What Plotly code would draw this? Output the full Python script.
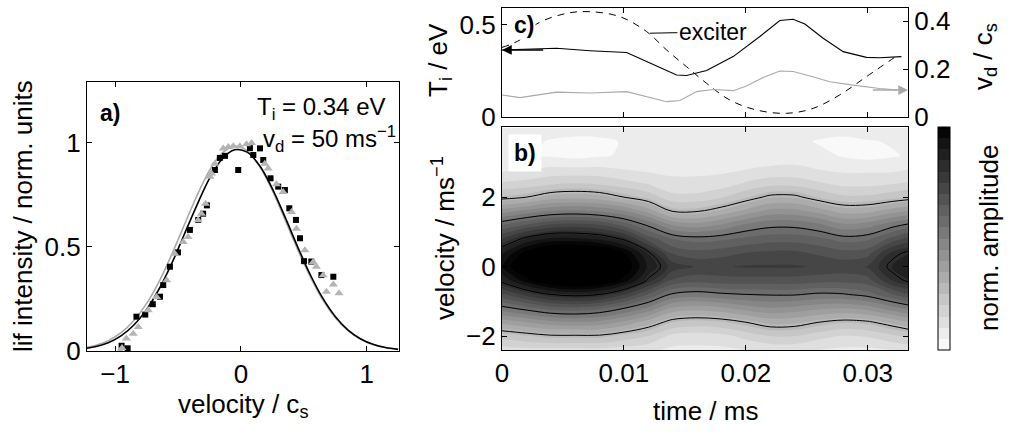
import numpy as np
import plotly.graph_objects as go

# ---------------- panel a) data ----------------
sq_v = [-0.948, -0.90, -0.83, -0.76, -0.70, -0.643, -0.617, -0.564, -0.50, -0.405, -0.339, -0.30, -0.27,
        -0.206, -0.167, -0.126, -0.021, 0.072, 0.099, 0.152, 0.178, 0.236, 0.297, 0.35, 0.385, 0.438,
        0.47, 0.502, 0.56, 0.64, 0.735]
sq_I = [0.025, 0.013, 0.165, 0.175, 0.225, 0.261, 0.317, 0.405, 0.474, 0.582, 0.63, 0.66, 0.70,
        0.87, 0.928, 0.938, 0.87, 0.975, 0.942, 0.974, 0.918, 0.83, 0.79, 0.774, 0.686, 0.63,
        0.542, 0.432, 0.43, 0.365, 0.357]
tri_v = [-0.96, -0.945, -0.91, -0.856, -0.816, -0.736, -0.67, -0.59, -0.525, -0.458, -0.42, -0.34, -0.313,
         -0.281, -0.246, -0.233, -0.207, -0.14, -0.10, -0.06, -0.008, 0.045, 0.085, 0.19, 0.217, 0.283,
         0.336, 0.403, 0.442, 0.509, 0.575, 0.60, 0.654, 0.68, 0.735, 0.78]
tri_I = [0.0, 0.015, 0.06, 0.083, 0.115, 0.196, 0.26, 0.34, 0.468, 0.524, 0.548, 0.628, 0.66,
         0.708, 0.837, 0.853, 0.90, 0.973, 0.981, 0.984, 0.984, 0.994, 1.0, 0.90, 0.877, 0.801,
         0.764, 0.668, 0.588, 0.484, 0.428, 0.405, 0.364, 0.285, 0.32, 0.277]
fit_v = [-1.25, -1.15, -1.05, -0.95, -0.85, -0.75, -0.65, -0.55, -0.45, -0.35, -0.25, -0.15, -0.05,
         0.05, 0.15, 0.25, 0.35, 0.45, 0.55, 0.65, 0.75, 0.85, 0.95, 1.05, 1.15, 1.25]
fit_black = [0.0108, 0.0218, 0.0413, 0.074, 0.125, 0.199, 0.298, 0.42, 0.56, 0.70, 0.829, 0.922, 0.967,
             0.956, 0.890, 0.781, 0.646, 0.503, 0.369, 0.255, 0.166, 0.102, 0.059, 0.032, 0.0165, 0.008]
fit_gray = [0.014, 0.0276, 0.051, 0.089, 0.147, 0.228, 0.334, 0.463, 0.605, 0.745, 0.867, 0.951, 0.985,
            0.962, 0.887, 0.772, 0.633, 0.49, 0.359, 0.247, 0.161, 0.099, 0.057, 0.031, 0.016, 0.008]

# ---------------- panel c) data ----------------
t_Ti = [0.0, 0.00448, 0.00721, 0.01022, 0.01186, 0.01432, 0.01514, 0.01678, 0.01896, 0.02115,
        0.02279, 0.02388, 0.02484, 0.02634, 0.02798, 0.02989, 0.03098, 0.03276]
Ti = [0.364, 0.373, 0.360, 0.350, 0.301, 0.228, 0.225, 0.252, 0.328, 0.437,
      0.524, 0.531, 0.505, 0.428, 0.355, 0.324, 0.322, 0.328]
t_vd = [0.0, 0.00148, 0.00448, 0.00721, 0.01022, 0.01186, 0.0135, 0.01459, 0.01596, 0.01732,
        0.01896, 0.02005, 0.02142, 0.02279, 0.02388, 0.02525, 0.02689, 0.0288, 0.03098, 0.03249]
vd = [0.092, 0.081, 0.104, 0.100, 0.106, 0.085, 0.064, 0.069, 0.106, 0.115,
      0.110, 0.129, 0.165, 0.192, 0.190, 0.171, 0.147, 0.133, 0.119, 0.1125]
t_exc = [0.0, 0.0015, 0.00284, 0.0053, 0.0072, 0.00967, 0.01186, 0.0135, 0.01514, 0.01678, 0.01869,
         0.02088, 0.02333, 0.02552, 0.0277, 0.02989, 0.03249]
exc = [0.378, 0.42, 0.505, 0.563, 0.572, 0.545, 0.464, 0.364, 0.273, 0.183, 0.092,
       0.038, 0.02, 0.047, 0.12, 0.219, 0.337]

# ---------------- panel b) data ----------------
time_grid = [0.0, 0.002, 0.004, 0.006, 0.008, 0.010, 0.012, 0.014, 0.016, 0.018,
             0.020, 0.022, 0.024, 0.026, 0.028, 0.030, 0.032, 0.0333]
vel_grid = [-2.4, -2.0, -1.6, -1.2, -0.8, -0.4, 0.0, 0.4, 0.8, 1.2, 1.6, 2.0, 2.4, 2.8, 3.2, 3.6, 4.0]
# one list per time column, values from v=-2.4 up to v=4.0
amp_by_time = [
    [0.11, 0.20, 0.33, 0.48, 0.62, 0.77, 0.86, 0.80, 0.68, 0.54, 0.38, 0.23, 0.14, 0.08, 0.06, 0.07, 0.09],
    [0.12, 0.22, 0.36, 0.52, 0.69, 0.88, 0.97, 0.92, 0.77, 0.59, 0.42, 0.25, 0.15, 0.09, 0.05, 0.06, 0.08],
    [0.12, 0.24, 0.39, 0.56, 0.75, 0.97, 1.03, 1.00, 0.82, 0.64, 0.45, 0.29, 0.17, 0.10, 0.04, 0.04, 0.07],
    [0.12, 0.24, 0.40, 0.57, 0.77, 1.00, 1.05, 1.02, 0.82, 0.65, 0.46, 0.30, 0.18, 0.10, 0.03, 0.03, 0.07],
    [0.12, 0.24, 0.39, 0.55, 0.75, 0.97, 1.02, 0.98, 0.80, 0.63, 0.445, 0.29, 0.17, 0.10, 0.04, 0.03, 0.08],
    [0.11, 0.21, 0.35, 0.50, 0.68, 0.88, 0.95, 0.90, 0.74, 0.57, 0.41, 0.25, 0.15, 0.09, 0.05, 0.05, 0.08],
    [0.10, 0.18, 0.29, 0.44, 0.58, 0.74, 0.80, 0.76, 0.61, 0.49, 0.34, 0.21, 0.13, 0.08, 0.05, 0.06, 0.07],
    [0.08, 0.12, 0.225, 0.35, 0.49, 0.62, 0.70, 0.62, 0.54, 0.40, 0.245, 0.15, 0.10, 0.08, 0.06, 0.05, 0.08],
    [0.08, 0.11, 0.21, 0.335, 0.475, 0.60, 0.67, 0.60, 0.52, 0.38, 0.245, 0.15, 0.10, 0.08, 0.07, 0.05, 0.09],
    [0.08, 0.12, 0.22, 0.35, 0.49, 0.61, 0.67, 0.61, 0.53, 0.41, 0.28, 0.175, 0.11, 0.08, 0.06, 0.06, 0.08],
    [0.09, 0.15, 0.25, 0.38, 0.50, 0.61, 0.68, 0.63, 0.55, 0.46, 0.33, 0.22, 0.14, 0.09, 0.05, 0.07, 0.08],
    [0.10, 0.18, 0.285, 0.40, 0.505, 0.61, 0.68, 0.64, 0.565, 0.485, 0.375, 0.265, 0.16, 0.10, 0.06, 0.08, 0.09],
    [0.10, 0.18, 0.28, 0.39, 0.505, 0.61, 0.68, 0.64, 0.565, 0.485, 0.375, 0.265, 0.16, 0.10, 0.07, 0.06, 0.08],
    [0.09, 0.15, 0.25, 0.37, 0.49, 0.60, 0.67, 0.62, 0.55, 0.46, 0.34, 0.22, 0.14, 0.09, 0.06, 0.04, 0.07],
    [0.08, 0.13, 0.23, 0.36, 0.495, 0.60, 0.66, 0.60, 0.52, 0.415, 0.295, 0.19, 0.12, 0.08, 0.04, 0.03, 0.07],
    [0.08, 0.14, 0.24, 0.38, 0.52, 0.61, 0.68, 0.61, 0.53, 0.43, 0.30, 0.19, 0.12, 0.08, 0.03, 0.04, 0.08],
    [0.09, 0.17, 0.28, 0.43, 0.58, 0.72, 0.77, 0.73, 0.60, 0.48, 0.34, 0.21, 0.13, 0.08, 0.04, 0.05, 0.08],
    [0.10, 0.19, 0.31, 0.46, 0.625, 0.76, 0.81, 0.76, 0.645, 0.51, 0.36, 0.225, 0.14, 0.09, 0.05, 0.06, 0.09],
]
contour_levels = [0.25, 0.5, 0.75]

z = np.array(amp_by_time).T

FONT = "Liberation Sans"
GRAY = "#a9a9a9"
TRI_GRAY = "#b4b4b4"
W, H = 1014, 437

def px(xp):
    return xp / W

def py(yp):
    return (H - yp) / H

fig = go.Figure()

# panel a
fig.add_trace(go.Scatter(x=fit_v, y=fit_gray, mode="lines", line=dict(color=GRAY, width=1.6, shape="spline"),
                         xaxis="x", yaxis="y", hoverinfo="skip"))
fig.add_trace(go.Scatter(x=fit_v, y=fit_black, mode="lines", line=dict(color="black", width=1.6, shape="spline"),
                         xaxis="x", yaxis="y", hoverinfo="skip"))
fig.add_trace(go.Scatter(x=sq_v, y=sq_I, mode="markers", marker=dict(symbol="square", size=6, color="black"),
                         xaxis="x", yaxis="y"))
fig.add_trace(go.Scatter(x=tri_v, y=tri_I, mode="markers", marker=dict(symbol="triangle-up", size=8, color=TRI_GRAY),
                         xaxis="x", yaxis="y"))

# panel b
fig.add_trace(go.Contour(x=time_grid, y=vel_grid, z=z, xaxis="x2", yaxis="y2",
                         zmin=0, zmax=0.9, colorscale=[[0, "#ffffff"], [1, "#000000"]],
                         contours=dict(start=0, end=0.9, size=0.045, coloring="fill", showlines=False),
                         line=dict(width=0, smoothing=1.0),
                         colorbar=dict(x=px(938), xanchor="left", xpad=0, ypad=0, thickness=12,
                                       len=(350 - 127) / H, lenmode="fraction", y=py(350), yanchor="bottom",
                                       outlinecolor="black", outlinewidth=1, showticklabels=False, ticks=""),
                         hoverinfo="skip"))
fig.add_trace(go.Contour(x=time_grid, y=vel_grid, z=z, xaxis="x2", yaxis="y2",
                         contours=dict(start=contour_levels[0], end=contour_levels[-1], size=0.25, coloring="none"),
                         line=dict(color="black", width=1, smoothing=1.0), showscale=False, hoverinfo="skip"))

# panel c
fig.add_trace(go.Scatter(x=t_exc, y=exc, mode="lines", line=dict(color="black", width=1, dash="7px,6px", shape="spline"),
                         xaxis="x3", yaxis="y3"))
fig.add_trace(go.Scatter(x=t_Ti, y=Ti, mode="lines", line=dict(color="black", width=1.1),
                         xaxis="x3", yaxis="y3"))
fig.add_trace(go.Scatter(x=t_vd, y=vd, mode="lines", line=dict(color=GRAY, width=1.1),
                         xaxis="x3", yaxis="y4"))

tickfont = dict(family=FONT, size=26, color="black")
common = dict(showline=True, linecolor="black", linewidth=1.2, ticks="inside", ticklen=5, tickcolor="black",
              showgrid=False, zeroline=False, tickfont=tickfont, automargin=False, ticklabeloverflow="allow")

fig.update_layout(
    width=W, height=H, margin=dict(l=0, r=0, t=0, b=0, autoexpand=False), showlegend=False,
    paper_bgcolor="white", plot_bgcolor="white",
    font=dict(family=FONT, size=26, color="black"),
    xaxis=dict(domain=[px(87), px(399)], range=[-1.223, 1.257], tickvals=[-1, 0, 1], mirror="ticks",
               anchor="y", **common),
    yaxis=dict(domain=[py(351), py(82)], range=[0, 1.293], tickvals=[0, 0.5, 1], ticktext=["0", "0.5", "1"],
               mirror="ticks", anchor="x", **common),
    xaxis2=dict(domain=[px(502), px(908)], range=[0, 0.0333], tickvals=[0, 0.01, 0.02, 0.03],
                ticktext=["0", "0.01", "0.02", "0.03"], mirror="ticks", anchor="y2", **common),
    yaxis2=dict(domain=[py(350), py(127)], range=[-2.4, 4.02], tickvals=[-2, 0, 2], mirror="ticks",
                anchor="x2", **common),
    xaxis3=dict(domain=[px(502), px(908)], range=[0, 0.0333], tickvals=[0.01, 0.02, 0.03], showticklabels=False,
                mirror="ticks", anchor="y3", **common),
    yaxis3=dict(domain=[py(117), py(8)], range=[0, 0.592], tickvals=[0, 0.5], ticktext=["0", "0.5"],
                mirror=True, anchor="x3", **common),
    yaxis4=dict(range=[0, 0.455], tickvals=[0, 0.2, 0.4], ticktext=["0", "0.2", "0.4"], overlaying="y3",
                side="right", anchor="x3", **common),
)

ann = []
def title(text, x, y, angle=0, size=26):
    ann.append(dict(text=text, x=px(x), y=py(y), xref="paper", yref="paper", showarrow=False,
                    xanchor="center", yanchor="middle", textangle=angle,
                    font=dict(family=FONT, size=size, color="black")))

title("lif intensity / norm. units", 23, 216, -90)
title("velocity / c<sub>s</sub>", 243, 405)
title("time / ms", 705, 411)
title("velocity / ms<sup>−1</sup>", 443, 238, -90)
title("T<sub>i</sub> / eV", 439, 60, -90)
title("v<sub>d</sub> / c<sub>s</sub>", 984, 57, -90)
title("norm. amplitude", 989, 238, -90)

# panel labels and texts
ann.append(dict(text="<b>a)</b>", x=-1.04, y=1.144, xref="x", yref="y", showarrow=False,
                font=dict(family=FONT, size=23), bgcolor="white"))
ann.append(dict(text="T<sub>i</sub> = 0.34 eV", x=1.169, y=1.168, xref="x", yref="y", showarrow=False,
                xanchor="right", font=dict(family=FONT, size=24)))
ann.append(dict(text="v<sub>d</sub> = 50 ms<sup>−1</sup>", x=1.25, y=1.02, xref="x", yref="y", showarrow=False,
                xanchor="right", font=dict(family=FONT, size=24)))
ann.append(dict(text="<b>b)</b>", x=0.00189, y=3.27, xref="x2", yref="y2", showarrow=False,
                font=dict(family=FONT, size=23), bgcolor="white", borderpad=5))
ann.append(dict(text="<b>c)</b>", x=0.0018, y=0.50, xref="x3", yref="y3", showarrow=False,
                font=dict(family=FONT, size=23), bgcolor="white"))
ann.append(dict(text="exciter", x=0.01213, y=0.455, xref="x3", yref="y3", ax=0.0173, ay=0.462,
                axref="x3", ayref="y3", showarrow=True, arrowhead=0, arrowwidth=1, arrowcolor="black",
                font=dict(family=FONT, size=23)))
ann.append(dict(text="", x=0.0, y=0.364, xref="x3", yref="y3", ax=0.0035, ay=0.364, axref="x3", ayref="y3",
                showarrow=True, arrowhead=2, arrowsize=1.3, arrowwidth=1.5, arrowcolor="black"))
ann.append(dict(text="", x=0.0333, y=0.1125, xref="x3", yref="y4", ax=0.0303, ay=0.1125, axref="x3", ayref="y4",
                showarrow=True, arrowhead=2, arrowsize=1.3, arrowwidth=1.5, arrowcolor=GRAY))
fig.update_layout(annotations=ann)

# remove the default 8 px page margin so the 1014x437 figure fills the window exactly
fig.write_html("out.html", config={"displayModeBar": False},
               post_script="document.body.style.margin='0px';")
